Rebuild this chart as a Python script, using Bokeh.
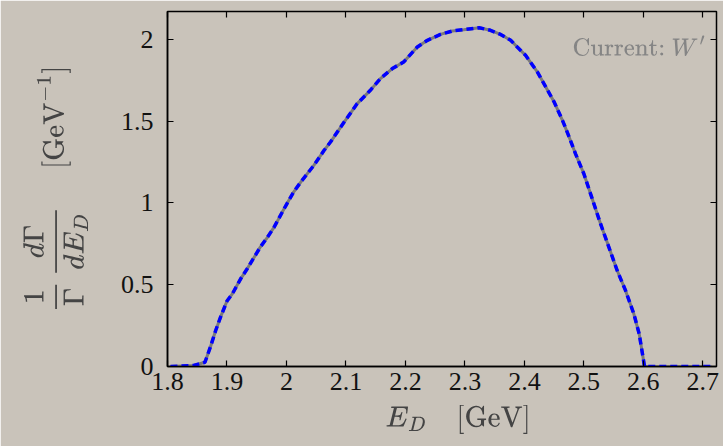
from bokeh.plotting import figure
from bokeh.models import (LinearAxis, FixedTicker, CustomJSTickFormatter, Label,
                          Range1d)
from bokeh.embed import file_html
from bokeh.resources import INLINE

# Normalised D-meson energy spectrum for the W' current
e_d = [1.805, 1.844, 1.863, 1.872, 1.881, 1.889, 1.900, 1.909, 1.923, 1.934,
       1.956, 1.968, 1.979, 1.990, 2.000, 2.012, 2.024, 2.046, 2.063, 2.074,
       2.097, 2.119, 2.141, 2.158, 2.178, 2.197, 2.220, 2.237, 2.259, 2.279,
       2.298, 2.324, 2.343, 2.360, 2.377, 2.388, 2.402, 2.422, 2.450, 2.464,
       2.472, 2.486, 2.500, 2.514, 2.528, 2.542, 2.556, 2.570, 2.584, 2.593,
       2.602, 2.715]
rate = [0.0, 0.006, 0.026, 0.118, 0.22, 0.30, 0.40, 0.444, 0.536, 0.597,
        0.73, 0.79, 0.85, 0.924, 0.99, 1.066, 1.127, 1.229, 1.32, 1.372,
        1.494, 1.607, 1.688, 1.76, 1.821, 1.861, 1.953, 1.994, 2.03, 2.051,
        2.059, 2.071, 2.055, 2.030, 1.994, 1.953, 1.902, 1.80, 1.617, 1.505,
        1.433, 1.30, 1.178, 1.026, 0.873, 0.73, 0.587, 0.465, 0.322, 0.20,
        0.0, 0.0]

x_ticks = [1.8, 1.9, 2.0, 2.1, 2.2, 2.3, 2.4, 2.5, 2.6, 2.7]
y_ticks = [0.0, 0.5, 1.0, 1.5, 2.0]

BG = "#c9c3ba"
TICK_FONT = "Liberation Serif"

p = figure(width=723, height=446, output_backend="svg", toolbar_location=None,
           x_range=Range1d(1.8, 2.723), y_range=Range1d(0, 2.17),
           min_border_left=167, min_border_right=7, min_border_top=11,
           min_border_bottom=80)
p.background_fill_color = BG
p.border_fill_color = BG
p.outline_line_color = "black"
p.outline_line_width = 1.5
p.grid.visible = False

fmt = CustomJSTickFormatter(code="return String(Math.round(tick * 10) / 10);")

for ax, ticks in ((p.xaxis[0], x_ticks), (p.yaxis[0], y_ticks)):
    ax.ticker = FixedTicker(ticks=ticks)
    ax.formatter = fmt
    ax.major_tick_in = 6
    ax.major_tick_out = 0
    ax.minor_tick_line_color = None
    ax.major_tick_line_width = 1.2
    ax.axis_line_width = 1.5
    ax.major_label_text_font = TICK_FONT
    ax.major_label_text_font_size = "26px"
    ax.major_label_text_color = "#111111"

p.xaxis.major_label_standoff = 6
p.yaxis.major_label_standoff = 14

p.xaxis.axis_label = r"$$\hspace{1.1em}E_D \quad [\mathrm{GeV}]$$"
p.xaxis.axis_label_text_font_size = "24px"
p.xaxis.axis_label_standoff = 12
p.yaxis.axis_label = r"$$\frac{1}{\Gamma}\,\frac{d\Gamma}{dE_D}\quad\; [\mathrm{GeV}^{-1}]$$"
p.yaxis.axis_label_text_font_size = "24px"
p.yaxis.axis_label_standoff = 30

# Mirror ticks on the top and right frame edges (labels not drawn)
for side, ticks in (("above", x_ticks), ("right", y_ticks)):
    mirror = LinearAxis(ticker=FixedTicker(ticks=ticks), major_tick_in=6,
                        major_tick_out=0, minor_tick_line_color=None,
                        major_label_text_font_size="1px",
                        major_label_text_color=None,
                        major_label_standoff=0, axis_line_color=None,
                        major_tick_line_width=1.2)
    p.add_layout(mirror, side)

# Solid grey trace under a blue dashed trace
p.line(e_d, rate, line_color="#7a7a7a", line_width=3)
p.line(e_d, rate, line_color="#0000ff", line_width=3.5, line_dash="7 4")

p.add_layout(Label(x=2.705, y=1.957, text=r"$$\text{Current: } W'$$",
                   text_align="right", text_baseline="middle",
                   text_font_size="20px", text_color="#858585"))

open("out.html", "w").write(file_html(p, INLINE))
